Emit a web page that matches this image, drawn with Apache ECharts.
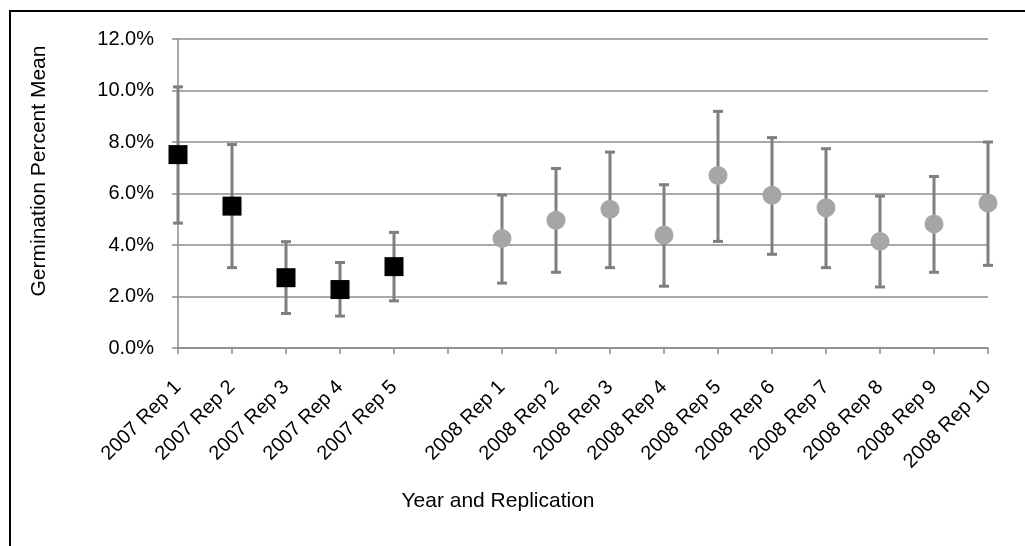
<!DOCTYPE html>
<html>
<head>
<meta charset="utf-8">
<script src="https://cdn.jsdelivr.net/npm/echarts@6/dist/echarts.min.js"></script>
<style>
  html, body { margin: 0; padding: 0; background: #fff; }
  #chart-container { width: 1025px; height: 546px; }
</style>
</head>
<body>
<div id="chart-container"></div>
<script>
const categories = [
  "2007 Rep 1", "2007 Rep 2", "2007 Rep 3", "2007 Rep 4", "2007 Rep 5",
  "",
  "2008 Rep 1", "2008 Rep 2", "2008 Rep 3", "2008 Rep 4", "2008 Rep 5",
  "2008 Rep 6", "2008 Rep 7", "2008 Rep 8", "2008 Rep 9", "2008 Rep 10"
];

// germination percent mean, with lower / upper error bar ends (percent)
const mean2007 = [7.51, 5.51, 2.73, 2.27, 3.16];
const low2007 = [4.85, 3.12, 1.34, 1.24, 1.83];
const high2007 = [10.14, 7.90, 4.13, 3.32, 4.49];

const mean2008 = [4.25, 4.96, 5.39, 4.39, 6.70, 5.93, 5.45, 4.14, 4.82, 5.63];
const low2008 = [2.52, 2.94, 3.12, 2.40, 4.14, 3.64, 3.12, 2.37, 2.94, 3.21];
const high2008 = [5.94, 6.97, 7.61, 6.34, 9.19, 8.17, 7.74, 5.90, 6.66, 8.00];

const yTicks = [0, 2, 4, 6, 8, 10, 12];

const font = "Liberation Sans, Arial, sans-serif";
const gridColor = "#8c8c8c";
const barColor = "#7f7f7f";

function buildSeriesData(values, prefix) {
  let out = [];
  for (let i = 0; i < categories.length; i++) {
    out.push("-");
  }
  for (let i = 0; i < values.length; i++) {
    let idx = categories.indexOf(prefix + (i + 1));
    out[idx] = values[i];
  }
  return out;
}

function buildErrorData(lows, highs, prefix) {
  let out = [];
  for (let i = 0; i < lows.length; i++) {
    let idx = categories.indexOf(prefix + (i + 1));
    out.push([idx, lows[i], highs[i]]);
  }
  return out;
}

function renderErrorBar(params, api) {
  let x = api.value(0);
  let lo = api.coord([x, api.value(1)]);
  let hi = api.coord([x, api.value(2)]);
  let w = 5;
  let style = { stroke: barColor, lineWidth: 3, fill: null };
  return {
    type: "group",
    children: [
      { type: "line", shape: { x1: lo[0], y1: lo[1], x2: hi[0], y2: hi[1] }, style: style },
      { type: "line", shape: { x1: hi[0] - w, y1: hi[1], x2: hi[0] + w, y2: hi[1] }, style: style },
      { type: "line", shape: { x1: lo[0] - w, y1: lo[1], x2: lo[0] + w, y2: lo[1] }, style: style }
    ]
  };
}

let dom = document.getElementById("chart-container");
let myChart = echarts.init(dom, null, { renderer: "canvas" });

let option = {
  animation: false,
  backgroundColor: "#fff",
  grid: { left: 178, right: 37, top: 39, bottom: 198 },
  graphic: [
    {
      type: "rect",
      shape: { x: 10, y: 11, width: 1100, height: 600 },
      style: { fill: null, stroke: "#000", lineWidth: 2 },
      silent: true
    },
    {
      type: "text",
      x: 39,
      y: 171,
      rotation: Math.PI / 2,
      style: {
        text: "Germination Percent Mean",
        font: "21px " + font,
        fill: "#000",
        align: "center",
        verticalAlign: "middle"
      }
    },
    {
      type: "text",
      x: 498,
      y: 501,
      style: {
        text: "Year and Replication",
        font: "21px " + font,
        fill: "#000",
        align: "center",
        verticalAlign: "middle"
      }
    }
  ],
  xAxis: {
    type: "category",
    data: categories,
    boundaryGap: false,
    axisLine: { lineStyle: { color: gridColor, width: 1.5 } },
    axisTick: { show: true, interval: 0, length: 6, lineStyle: { color: gridColor, width: 1.5 } },
    axisLabel: {
      interval: 0,
      rotate: 45,
      margin: 36,
      color: "#000",
      fontFamily: font,
      fontSize: 20
    },
    splitLine: { show: false }
  },
  yAxis: {
    type: "value",
    min: yTicks[0],
    max: yTicks[yTicks.length - 1],
    interval: 2,
    axisLine: { show: true, lineStyle: { color: gridColor, width: 1.5 } },
    axisTick: { show: true, length: 6, lineStyle: { color: gridColor, width: 1.5 } },
    axisLabel: {
      margin: 24,
      color: "#000",
      fontFamily: font,
      fontSize: 20,
      formatter: (v) => v.toFixed(1) + "%"
    },
    splitLine: { show: true, lineStyle: { color: gridColor, width: 1.5 } }
  },
  series: [
    {
      name: "2007 error",
      type: "custom",
      renderItem: renderErrorBar,
      data: buildErrorData(low2007, high2007, "2007 Rep "),
      encode: { x: 0, y: [1, 2] },
      z: 2
    },
    {
      name: "2008 error",
      type: "custom",
      renderItem: renderErrorBar,
      data: buildErrorData(low2008, high2008, "2008 Rep "),
      encode: { x: 0, y: [1, 2] },
      z: 2
    },
    {
      name: "2007",
      type: "scatter",
      symbol: "rect",
      symbolSize: 19,
      itemStyle: { color: "#000", opacity: 1 },
      data: buildSeriesData(mean2007, "2007 Rep "),
      z: 3
    },
    {
      name: "2008",
      type: "scatter",
      symbol: "circle",
      symbolSize: 19,
      itemStyle: { color: "#a6a6a6", opacity: 1 },
      data: buildSeriesData(mean2008, "2008 Rep "),
      z: 3
    }
  ]
};

if (option && typeof option === "object") {
  myChart.setOption(option);
}
window.addEventListener("resize", myChart.resize);
</script>
</body>
</html>
